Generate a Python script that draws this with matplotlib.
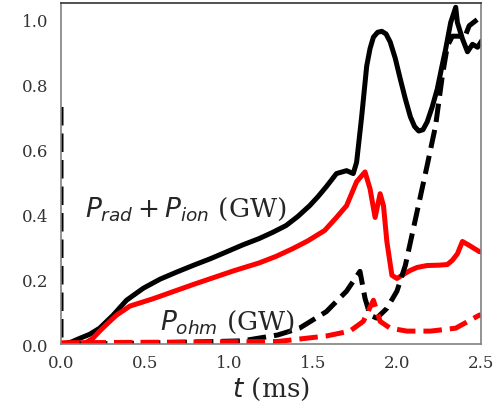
import matplotlib
matplotlib.use("Agg")
import matplotlib.pyplot as plt

plt.rcParams["font.family"] = "DejaVu Serif"
plt.rcParams["mathtext.fontset"] = "dejavusans"

# Radiated + ionisation power (GW), black solid
t_tot = [0.0, 0.06, 0.113, 0.17, 0.23, 0.31, 0.39, 0.49, 0.59, 0.69, 0.79,
         0.89, 0.99, 1.08, 1.18, 1.26, 1.34, 1.41, 1.48, 1.53, 1.58, 1.64,
         1.70, 1.74, 1.76, 1.79, 1.82, 1.84, 1.86, 1.885, 1.91, 1.935, 1.96,
         1.99, 2.02, 2.05, 2.08, 2.105, 2.13, 2.155, 2.18, 2.21, 2.24, 2.27,
         2.29, 2.32, 2.35, 2.36, 2.39, 2.42, 2.45, 2.48, 2.5]
p_tot = [0.0, 0.006, 0.018, 0.03, 0.049, 0.089, 0.135, 0.172, 0.2, 0.222,
         0.243, 0.263, 0.285, 0.305, 0.325, 0.344, 0.365, 0.393, 0.426, 0.454,
         0.485, 0.525, 0.534, 0.525, 0.56, 0.70, 0.856, 0.91, 0.945, 0.96,
         0.963, 0.955, 0.93, 0.88, 0.816, 0.755, 0.70, 0.67, 0.656, 0.66,
         0.684, 0.73, 0.785, 0.86, 0.908, 0.99, 1.037, 0.99, 0.94, 0.90,
         0.923, 0.914, 0.93]

# Radiated power (GW), red solid
t_rad = [0.0, 0.15, 0.19, 0.23, 0.28, 0.33, 0.41, 0.55, 0.67, 0.79, 0.91,
         1.03, 1.18, 1.28, 1.38, 1.47, 1.57, 1.64, 1.70, 1.76, 1.81, 1.84,
         1.87, 1.90, 1.92, 1.94, 1.97, 2.0, 2.04, 2.08, 2.12, 2.18, 2.25,
         2.30, 2.33, 2.36, 2.39, 2.43, 2.49, 2.5]
p_rad = [0.0, 0.005, 0.018, 0.04, 0.065, 0.089, 0.117, 0.14, 0.162, 0.184,
         0.205, 0.226, 0.25, 0.27, 0.294, 0.318, 0.35, 0.39, 0.426, 0.50,
         0.53, 0.478, 0.39, 0.463, 0.426, 0.316, 0.212, 0.202, 0.215, 0.227,
         0.236, 0.242, 0.243, 0.245, 0.258, 0.278, 0.316, 0.304, 0.285, 0.284]

# Ohmic power (GW), black dashed
t_ohm = [0.0, 0.0, 0.5, 1.08, 1.29, 1.42, 1.58, 1.70, 1.78, 1.81, 1.84,
         1.88, 1.94, 2.0, 2.05, 2.12, 2.18, 2.23, 2.27, 2.30, 2.33, 2.38,
         2.40, 2.43, 2.48, 2.5]
p_ohm = [0.73, 0.0, 0.003, 0.01, 0.028, 0.049, 0.10, 0.163, 0.224, 0.141,
         0.089, 0.08, 0.11, 0.163, 0.242, 0.408, 0.55, 0.672, 0.825, 0.917,
         0.948, 0.948, 0.94, 0.98, 1.0, 1.0]

# Ohmic power, red dashed (GW)
t_ohm_r = [0.0, 1.29, 1.58, 1.72, 1.80, 1.86, 1.90, 1.96, 2.06, 2.2, 2.35,
           2.49, 2.5]
p_ohm_r = [0.004, 0.008, 0.025, 0.04, 0.07, 0.135, 0.07, 0.049, 0.04, 0.04,
           0.049, 0.089, 0.09]

fig = plt.figure(figsize=(4.94, 4.06), dpi=100)
ax = fig.add_axes([0.1235, 0.150, 0.850, 0.840])

lw = 3.6
ax.plot(t_tot, p_tot, color="k", lw=lw, solid_joinstyle="round")
ax.plot(t_rad, p_rad, color="red", lw=lw, solid_joinstyle="round")
ax.plot(t_ohm, p_ohm, color="k", lw=lw, ls="--")
ax.plot(t_ohm_r, p_ohm_r, color="red", lw=lw, ls="--")

ax.text(0.14, 0.396, r"$P_{rad} + P_{ion}$ (GW)", fontsize=19,
        va="baseline", color="#262626")
ax.text(0.59, 0.049, r"$P_{ohm}$ (GW)", fontsize=19, va="baseline",
        color="#262626")

ax.set_xlim(0, 2.5)
ax.set_ylim(0, 1.05)
ax.set_xticks([0.0, 0.5, 1.0, 1.5, 2.0, 2.5])
ax.set_yticks([0.0, 0.2, 0.4, 0.6, 0.8, 1.0])
ax.tick_params(length=0, labelsize=12, labelcolor="#333333")
ax.tick_params(axis="y", pad=9)
ax.tick_params(axis="x", pad=7)
ax.set_xlabel(r"$t$ (ms)", fontsize=19, color="#262626", labelpad=3)

for side in ["left", "bottom", "right"]:
    ax.spines[side].set_color("#808080")
    ax.spines[side].set_linewidth(1.2)
ax.spines["top"].set_color("#333333")
ax.spines["top"].set_linewidth(1.2)

fig.savefig("out.png", dpi=100)
